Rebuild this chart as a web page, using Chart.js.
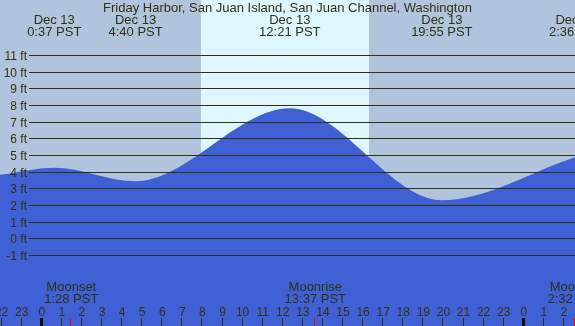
<!DOCTYPE html>
<html>
<head>
<meta charset="utf-8">
<script src="https://cdn.jsdelivr.net/npm/chart.js@4"></script>
<style>
  html, body { margin: 0; padding: 0; background: #b0c4de; }
  #tideChart { display: block; }
</style>
</head>
<body>
<canvas id="tideChart" width="575" height="326"></canvas>
<script>
// tide curve, hours from midnight Dec 13 (first/last are the edges of the picture)
var tideHours = [-2.08, 0.62, 4.67, 12.35, 19.92, 26.6];
var tideFeet = [3.84, 4.27, 3.46, 7.84, 2.32, 4.92];

// labelled highs and lows along the top
var eventHours = [0.62, 4.67, 12.35, 19.92, 26.6];
var eventDates = ['Dec 13', 'Dec 13', 'Dec 13', 'Dec 13', 'Dec 14'];
var eventTimes = ['0:37 PST', '4:40 PST', '12:21 PST', '19:55 PST', '2:36 PST'];

// moon events along the bottom
var moonHours = [1.47, 13.62, 26.53];
var moonNames = ['Moonset', 'Moonrise', 'Moonset'];
var moonTimes = ['1:28 PST', '13:37 PST', '2:32 PST'];

var sunrise = 7.93;
var sunset = 16.29;

var feetTicks = [-1, 0, 1, 2, 3, 4, 5, 6, 7, 8, 9, 10, 11];
var hourTicks = [];
for (var h = -2; h <= 26; h++) { hourTicks.push(h); }

var title = 'Friday Harbor, San Juan Island, San Juan Channel, Washington';
var font = '"Liberation Sans", Arial, sans-serif';
var inkColor = '#303010';

var backdrop = {
    id: 'backdrop',
    beforeDatasetsDraw: function(chart) {
        var ctx = chart.ctx;
        var x = chart.scales.x;
        ctx.save();
        ctx.fillStyle = '#b0c4de';
        ctx.fillRect(0, 0, chart.width, chart.height);
        //daylight band
        var x1 = x.getPixelForValue(sunrise);
        var x2 = x.getPixelForValue(sunset);
        ctx.fillStyle = '#def7ff';
        ctx.fillRect(Math.round(x1), 0, Math.round(x2) - Math.round(x1), chart.height);
        ctx.restore();
    }
};

var overlay = {
    id: 'overlay',
    afterDatasetsDraw: function(chart) {
        var ctx = chart.ctx;
        var x = chart.scales.x;
        var y = chart.scales.y;
        ctx.save();

        //horizontal foot lines and labels
        ctx.strokeStyle = inkColor;
        ctx.lineWidth = 1;
        ctx.fillStyle = inkColor;
        ctx.font = '12px ' + font;
        ctx.textAlign = 'right';
        ctx.textBaseline = 'alphabetic';
        feetTicks.forEach(function(ft) {
            var py = Math.floor(y.getPixelForValue(ft)) + 0.5;
            ctx.beginPath();
            ctx.moveTo(29, py);
            ctx.lineTo(chart.width, py);
            ctx.stroke();
            ctx.fillText(ft + ' ft', 27, py + 4);
        });

        //title
        ctx.textAlign = 'center';
        ctx.font = '13px ' + font;
        ctx.fillText(title, chart.width / 2, 12);

        //high / low labels
        eventHours.forEach(function(hr, i) {
            var px = x.getPixelForValue(hr);
            ctx.fillText(eventDates[i], px, 24);
            ctx.fillText(eventTimes[i], px, 36);
        });

        //moon labels
        moonHours.forEach(function(hr, i) {
            var px = x.getPixelForValue(hr);
            ctx.fillText(moonNames[i], px, 291);
            ctx.fillText(moonTimes[i], px, 303);
        });

        //hour labels and ticks
        ctx.font = '12px ' + font;
        hourTicks.forEach(function(hr) {
            var px = x.getPixelForValue(hr);
            var label = ((hr % 24) + 24) % 24;
            ctx.fillText(String(label), px, 316);
            if (label === 0) {
                ctx.fillStyle = '#101000';
                ctx.fillRect(Math.round(px) - 2, 318, 3, 8);
                ctx.fillStyle = inkColor;
            } else {
                ctx.fillRect(Math.round(px) - 1, 318, 1, 8);
            }
        });

        //moon event ticks in red
        ctx.fillStyle = '#ff0000';
        moonHours.forEach(function(hr) {
            var px = x.getPixelForValue(hr);
            ctx.fillRect(Math.round(px) - 1, 318, 1, 8);
        });

        ctx.restore();
    }
};

var ctx = document.getElementById('tideChart').getContext('2d');
var chart = new Chart(ctx, {
    type: 'line',
    data: {
        datasets: [{
            data: tideHours.map(function(hr, i) { return { x: hr, y: tideFeet[i] }; }),
            fill: 'start',
            backgroundColor: '#4060d6',
            borderWidth: 0,
            pointRadius: 0,
            cubicInterpolationMode: 'monotone'
        }]
    },
    options: {
        responsive: false,
        animation: false,
        layout: { padding: 0 },
        plugins: {
            legend: { display: false },
            tooltip: { enabled: false }
        },
        scales: {
            x: { type: 'linear', display: false, min: -2.08, max: 26.55 },
            y: { type: 'linear', display: false, min: -5.23, max: 14.33 }
        }
    },
    plugins: [backdrop, overlay]
});
</script>
</body>
</html>
